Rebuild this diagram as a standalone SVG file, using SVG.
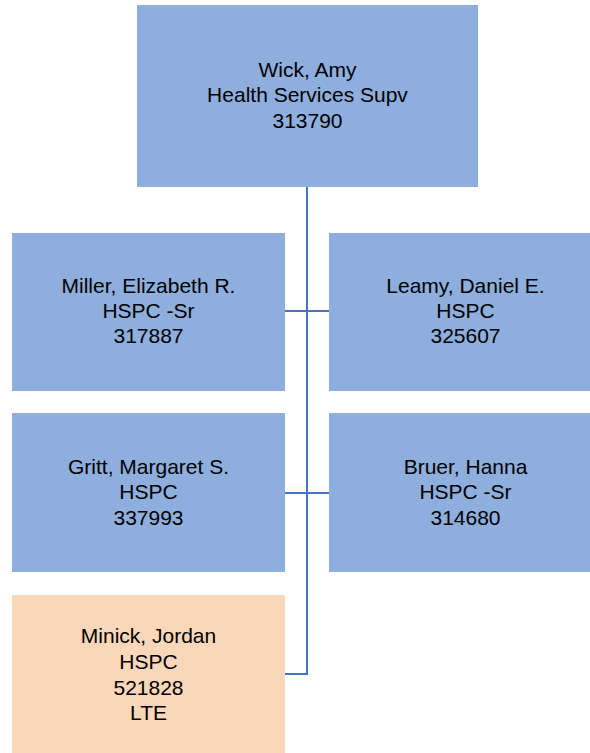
<svg xmlns="http://www.w3.org/2000/svg" width="590" height="753" viewBox="0 0 590 753">
<style>
.box{fill:#8EAEDD}
.lte{fill:#FAD7B9}
.t{font-family:"Liberation Sans",Arial,sans-serif;font-size:21px;fill:#000;text-anchor:middle}
.c{fill:none;stroke:#4472C4;stroke-width:2}
</style>
<rect width="590" height="753" fill="#fff"/>
<g id="connectors">
<path class="c" d="M307 187 V674 H285"/>
<path class="c" d="M285 311 H329"/>
<path class="c" d="M285 493 H329"/>
</g>
<g id="wick">
<rect class="box" x="137" y="5" width="341" height="182"/>
<text class="t" x="307.5" y="77">Wick, Amy</text>
<text class="t" x="307.5" y="102">Health Services Supv</text>
<text class="t" x="307.5" y="128">313790</text>
</g>
<g id="miller">
<rect class="box" x="12" y="233" width="273" height="158"/>
<text class="t" x="148.5" y="293">Miller, Elizabeth R.</text>
<text class="t" x="148.5" y="318">HSPC -Sr</text>
<text class="t" x="148.5" y="343">317887</text>
</g>
<g id="leamy">
<rect class="box" x="329" y="233" width="273" height="158"/>
<text class="t" x="465.5" y="293">Leamy, Daniel E.</text>
<text class="t" x="465.5" y="318">HSPC</text>
<text class="t" x="465.5" y="343">325607</text>
</g>
<g id="gritt">
<rect class="box" x="12" y="413" width="273" height="159"/>
<text class="t" x="148.5" y="474">Gritt, Margaret S.</text>
<text class="t" x="148.5" y="499">HSPC</text>
<text class="t" x="148.5" y="525">337993</text>
</g>
<g id="bruer">
<rect class="box" x="329" y="413" width="273" height="159"/>
<text class="t" x="465.5" y="474">Bruer, Hanna</text>
<text class="t" x="465.5" y="499">HSPC -Sr</text>
<text class="t" x="465.5" y="525">314680</text>
</g>
<g id="minick">
<rect class="lte" x="12" y="595" width="273" height="159"/>
<text class="t" x="148.5" y="643">Minick, Jordan</text>
<text class="t" x="148.5" y="669">HSPC</text>
<text class="t" x="148.5" y="695">521828</text>
<text class="t" x="148.5" y="720">LTE</text>
</g>
</svg>
